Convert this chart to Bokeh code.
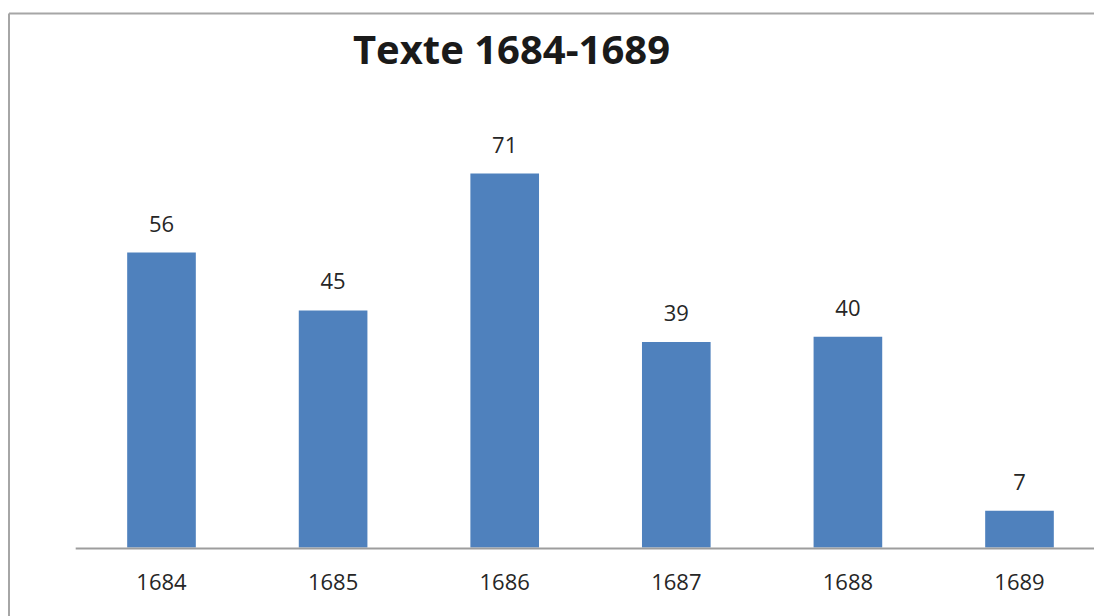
from bokeh.plotting import figure
from bokeh.models import Range1d, ColumnDataSource
from bokeh.core.properties import value
from bokeh.embed import file_html
from bokeh.resources import INLINE

# ---- data ----
years = ["1684", "1685", "1686", "1687", "1688", "1689"]
counts = [56, 45, 71, 39, 40, 7]
title_text = "Texte 1684-1689"

# ---- layout (page pixels) ----
W, H = 1094, 616
PAGE_X0, PAGE_Y0 = 0, 0
CAT_X0, CAT_STEP = 161.0, 171.6      # page x of first category centre, spacing
BASE_Y, PX_PER_UNIT = 547.0, 374.0 / 71.0

def dx(px):  # page x -> data x
    return (px - CAT_X0) / CAT_STEP

def dy(py):  # page y -> data y
    return (BASE_Y - py) / PX_PER_UNIT

p = figure(width=W, height=H, output_backend="svg", toolbar_location=None,
           x_range=Range1d(dx(PAGE_X0), dx(PAGE_X0 + W)),
           y_range=Range1d(dy(PAGE_Y0 + H), dy(PAGE_Y0)),
           min_border=0, min_border_left=0, min_border_right=0,
           min_border_top=0, min_border_bottom=0)
p.axis.visible = False
p.grid.visible = False
p.outline_line_color = None
p.background_fill_color = "white"
p.border_fill_color = "white"

xs = list(range(len(years)))
src = ColumnDataSource(dict(x=xs, top=counts, year=years,
                            lab=[str(c) for c in counts]))

# bars
p.vbar(x="x", top="top", bottom=0, width=0.4, source=src,
       fill_color="#4F81BD", line_color=None)

# chart border (top and left edges visible)
border_col = "#A6A6A6"
p.segment(x0=[dx(8.5), dx(8.5)], y0=[dy(13), dy(13)],
          x1=[dx(8.5), dx(PAGE_X0 + W)], y1=[dy(PAGE_Y0 + H), dy(13)],
          line_color=border_col, line_width=2)

# category axis line
p.segment(x0=[-0.5], y0=[dy(548)], x1=[dx(PAGE_X0 + W)], y1=[dy(548)],
          line_color="#9D9D9D", line_width=2)

# value labels
p.text(x="x", y="top", text="lab", source=src, y_offset=-29,
       text_align="center", text_baseline="alphabetic",
       text_font=value("Open Sans"), text_font_size="22px", text_color="#262626")

# category tick labels
p.text(x="x", y=0, text="year", source=src, y_offset=34,
       text_align="center", text_baseline="alphabetic",
       text_font=value("Open Sans"), text_font_size="22px", text_color="#262626")

# title
p.text(x=[dx(511)], y=[dy(48)], text=[title_text],
       text_align="center", text_baseline="alphabetic",
       text_font=value("Open Sans"), text_font_style="bold",
       text_font_size="40px", text_color="#1A1A1A")

open("out.html", "w").write(file_html(p, INLINE))
